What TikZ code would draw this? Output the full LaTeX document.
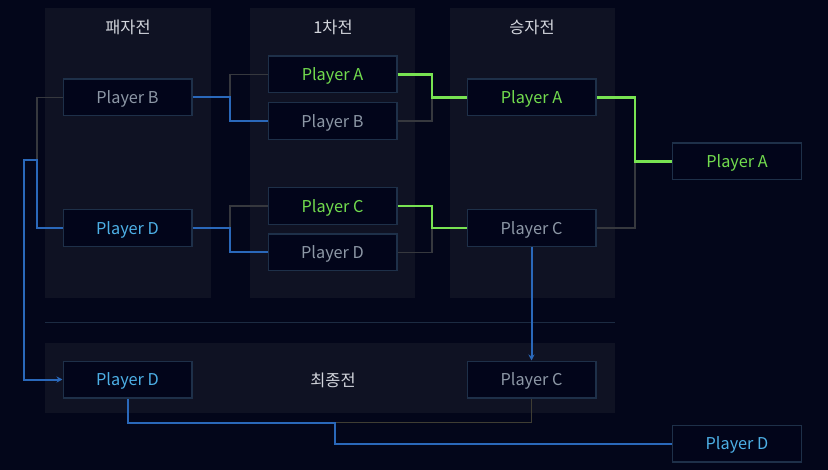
\documentclass[tikz,border=0pt]{standalone}
\usepackage{fontspec}
\setmainfont{Noto Sans CJK KR}
\usetikzlibrary{arrows.meta}
\definecolor{bg}{HTML}{03061A}
\definecolor{panel}{HTML}{0F1223}
\definecolor{boxfill}{HTML}{02051A}
\definecolor{boxline}{HTML}{1E3049}
\definecolor{sepline}{HTML}{1C2B42}
\definecolor{title}{HTML}{D2D5DC}
\definecolor{txtgreen}{HTML}{72DC4E}
\definecolor{txtblue}{HTML}{4DB0E6}
\definecolor{txtgray}{HTML}{8D98A6}
\definecolor{lgreen}{HTML}{78E352}
\definecolor{lblue}{HTML}{2A68BA}
\definecolor{lgray}{HTML}{36383E}
\definecolor{lolive}{HTML}{3F3D33}
\tikzset{
  pbox/.style={draw=boxline, fill=boxfill, line width=1pt, minimum width=96.5pt, minimum height=27.5pt, inner sep=0pt, text depth=0pt, font=\fontsize{12.2pt}{14pt}\selectfont},
  pgreen/.style={pbox, text=txtgreen},
  pblue/.style={pbox, text=txtblue},
  pgray/.style={pbox, text=txtgray},
  ttl/.style={text=title, font=\fontsize{12.3pt}{14pt}\selectfont, inner sep=0pt},
  gl/.style={draw=lgray, line width=1pt},
  ol/.style={draw=lolive, line width=1pt},
  bl/.style={draw=lblue, line width=1.5pt},
  gn/.style={draw=lgreen, line width=1.9pt},
  arr/.style={-{Stealth[length=4.5pt,width=4.5pt]}}
}
\begin{document}
\begin{tikzpicture}[x=0.75pt,y=-0.75pt]
\path[fill=bg] (0,0) rectangle (828,470);
% panels
\fill[panel] (45,8) rectangle (211,298);
\fill[panel] (250,8) rectangle (415,298);
\fill[panel] (450,8) rectangle (615,298);
\fill[panel] (45,343) rectangle (615,413);
\draw[sepline, line width=1pt] (45,322.5) -- (615,322.5);
% titles
\node[ttl] (t1) at (128,27) {패자전};
\node[ttl] (t2) at (333,27) {1차전};
\node[ttl] (t3) at (532,27) {승자전};
\node[ttl] (t4) at (333,380) {최종전};
% coordinates
\coordinate (j1) at (230,97.5);
\coordinate (j2) at (230,228);
\coordinate (j3) at (432,97.5);
\coordinate (j4) at (432,228);
\coordinate (j5) at (635,161.5);
\coordinate (j6) at (37,160.5);
\coordinate (j7) at (23.5,160.5);
\coordinate (j8) at (335,422.5);
% nodes
\node[pgray]  (lB) at (127.5,97.5) {Player B};
\node[pblue]  (lD) at (127.5,228) {Player D};
\node[pgreen] (aA) at (332.5,74.5) {Player A};
\node[pgray]  (aB) at (332.5,121) {Player B};
\node[pgreen] (aC) at (332.5,206) {Player C};
\node[pgray]  (aD) at (332.5,252.5) {Player D};
\node[pgreen] (wA) at (531.5,97.5) {Player A};
\node[pgray]  (wC) at (531.5,228) {Player C};
\node[pgreen] (fA) at (737,161.5) {Player A};
\node[pblue]  (zD) at (127.5,379.5) {Player D};
\node[pgray]  (zC) at (531.5,379.5) {Player C};
\node[pblue]  (fD) at (737,443.5) {Player D};
% connectors
\draw[gl] (aA.west) -| (j1);
\draw[bl] (lB.east) -- (j1) |- (aB.west);
\draw[gl] (aC.west) -| (j2);
\draw[bl] (lD.east) -- (j2) |- (aD.west);
\draw[gl] (aB.east) -| (j3);
\draw[gn] (aA.east) -| (j3) -- (wA.west);
\draw[gl] (aD.east) -| (j4);
\draw[gn] (aC.east) -| (j4) -- (wC.west);
\draw[gl] (wC.east) -| (j5);
\draw[gn] (wA.east) -| (j5) -- (fA.west);
\draw[gl] (lB.west) -| (j6);
\draw[bl, arr] (lD.west) -| (j6) -- (j7) |- (zD.west);
\draw[bl, arr] (wC.south) -- (zC.north);
\draw[ol] (zC.south) |- (j8);
\draw[bl] (zD.south) |- (j8) |- (fD.west);
\end{tikzpicture}
\end{document}
